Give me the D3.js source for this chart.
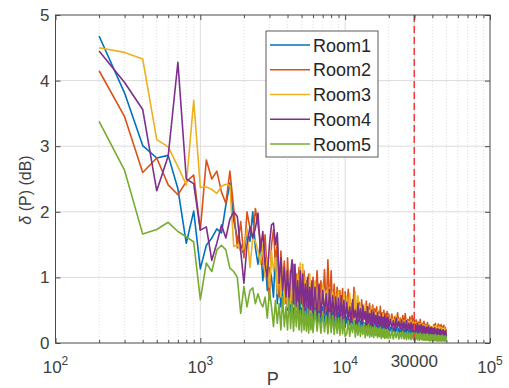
<!DOCTYPE html>
<html>
<head>
<meta charset="utf-8">
<script src="https://cdn.jsdelivr.net/npm/d3@7"></script>
<style>
  body { margin: 0; background: #fff; }
  svg { font-family: "Liberation Sans", Arial, sans-serif; }
</style>
</head>
<body>
<div id="chart"></div>
<script>
// sample positions (P)
const P = [200,300,400,500,600,700,800,900,1000,1100,1200,1300,1400,1500,1600,1700,1800,1900,2000,2100,2200,2300,2400,2500,2600,2700,2800,2900,3000,
  3100,3200,3300,3400,3500,3600,3700,3800,3900,4000,4100,4200,4300,4400,4500,4600,4700,4800,4900,5000,
  5100,5200,5300,5400,5500,5600,5700,5800,5900,6000,
  6200,6400,6600,6800,7000,7200,7400,7600,7800,8000,8200,8400,8600,8800,9000,9200,9400,9600,9800,10000,
  10250,10500,10750,11000,11250,11500,11750,12000,12250,12500,12750,13000,13250,13500,13750,14000,14250,14500,14750,15000,
  15250,15500,15750,16000,16250,16500,16750,17000,17250,17500,17750,18000,18250,18500,18750,19000,19250,19500,19750,20000,
  20500,21000,21500,22000,22500,23000,23500,24000,24500,25000,25500,26000,26500,27000,27500,28000,28500,29000,29500,30000,
  30500,31000,31500,32000,32500,33000,33500,34000,34500,35000,35500,36000,36500,37000,37500,38000,38500,39000,39500,40000,
  40500,41000,41500,42000,42500,43000,43500,44000,44500,45000,45500,46000,46500,47000,47500,48000,48500,49000,49500,50000];

const room1 = [4.68,3.81,3.01,2.82,2.86,2.35,1.52,2.01,1.13,1.49,1.60,1.74,1.68,2.10,2.44,1.87,1.60,1.50,1.35,1.70,1.55,2.00,1.45,1.20,1.55,0.95,1.30,0.80,1.15,
  1.00,0.70,1.40,0.60,1.00,0.55,0.85,0.60,0.90,0.50,
  0.80,0.45,0.85,0.40,0.75,0.45,0.80,0.38,0.70,0.40,
  0.72,0.35,0.65,0.40,0.70,0.35,0.62,0.38,0.60,0.34,
  0.60,0.32,0.58,0.30,0.55,0.32,0.52,0.30,0.55,0.28,
  0.50,0.28,0.48,0.27,0.46,0.26,0.45,0.25,0.44,0.24,
  0.40,0.24,0.36,0.22,0.38,0.25,0.34,0.20,0.36,0.22,0.33,0.20,0.35,0.21,0.31,0.19,0.33,0.20,0.30,0.18,
  0.31,0.19,0.29,0.17,0.30,0.18,0.28,0.17,0.29,0.16,0.27,0.16,0.28,0.15,0.26,0.16,0.25,0.15,0.26,0.14,
  0.24,0.15,0.23,0.14,0.25,0.15,0.22,0.13,0.23,0.14,0.21,0.13,0.22,0.12,0.20,0.13,0.21,0.12,0.20,0.12,
  0.19,0.11,0.20,0.11,0.18,0.11,0.19,0.10,0.18,0.10,0.17,0.10,0.18,0.09,0.17,0.10,0.16,0.09,0.17,0.09,
  0.16,0.09,0.15,0.08,0.16,0.09,0.15,0.08,0.15,0.08,0.14,0.08,0.15,0.08,0.14,0.07,0.14,0.08,0.13,0.08];

const room2 = [4.15,3.45,2.60,2.82,2.41,2.26,2.46,2.56,1.72,2.79,2.50,2.62,2.30,2.13,2.62,2.05,1.45,1.85,1.30,2.00,1.75,1.60,2.05,1.80,1.55,1.20,1.65,1.00,0.66,
  1.50,1.73,1.20,1.55,0.70,1.40,0.90,1.25,0.60,1.30,
  0.75,1.10,0.65,1.20,0.70,1.05,0.55,1.15,0.65,1.00,
  0.60,1.10,0.55,0.95,0.65,1.05,0.50,0.90,0.60,1.00,
  0.55,1.10,0.50,0.95,0.60,1.12,0.50,1.27,0.55,1.10,
  0.50,0.90,0.45,0.85,0.50,0.80,0.45,0.83,0.40,0.78,
  0.50,0.82,0.40,0.60,0.35,0.85,0.45,0.55,0.38,0.62,0.42,0.66,0.35,0.52,0.40,0.64,0.34,0.50,0.60,0.36,
  0.48,0.58,0.33,0.52,0.38,0.55,0.32,0.48,0.36,0.56,0.30,0.46,0.35,0.50,0.30,0.45,0.33,0.48,0.29,0.44,
  0.30,0.44,0.28,0.40,0.26,0.46,0.30,0.38,0.27,0.42,0.28,0.45,0.26,0.36,0.30,0.40,0.25,0.42,0.27,0.38,
  0.24,0.35,0.26,0.32,0.22,0.36,0.24,0.30,0.21,0.33,0.22,0.28,0.20,0.31,0.21,0.27,0.19,0.25,0.20,0.24,
  0.19,0.28,0.18,0.30,0.20,0.26,0.17,0.29,0.18,0.27,0.17,0.28,0.18,0.25,0.16,0.27,0.17,0.24,0.15,0.22];

const room3 = [4.50,4.43,4.33,3.10,2.99,2.69,2.41,3.70,2.37,2.38,2.34,2.28,2.39,2.42,2.40,1.47,1.50,1.40,1.45,1.75,1.15,1.60,1.55,1.40,1.20,1.50,1.00,1.30,0.85,
  1.40,1.10,1.30,0.75,1.20,0.70,1.15,0.60,1.00,0.55,
  1.10,0.60,1.00,0.55,1.15,0.50,1.05,0.60,1.22,0.55,
  1.20,0.50,1.00,0.55,0.95,0.50,1.05,0.45,0.90,0.50,
  0.95,0.45,0.85,0.50,0.90,0.45,0.80,0.45,0.85,0.42,
  0.78,0.40,0.75,0.42,0.80,0.38,0.72,0.40,0.75,0.38,
  0.70,0.40,0.76,0.45,0.62,0.40,0.78,0.42,0.72,0.38,0.58,0.40,0.55,0.35,0.60,0.33,0.52,0.36,0.50,0.32,
  0.55,0.30,0.48,0.33,0.46,0.30,0.50,0.28,0.44,0.30,0.42,0.28,0.45,0.26,0.40,0.28,0.38,0.25,0.41,0.24,
  0.40,0.26,0.38,0.24,0.42,0.25,0.36,0.23,0.37,0.24,0.34,0.22,0.36,0.21,0.33,0.22,0.35,0.20,0.32,0.21,
  0.31,0.19,0.32,0.18,0.29,0.19,0.30,0.17,0.28,0.18,0.27,0.16,0.26,0.15,0.28,0.16,0.25,0.15,0.24,0.14,
  0.26,0.14,0.25,0.13,0.27,0.14,0.24,0.13,0.25,0.12,0.24,0.12,0.23,0.12,0.22,0.11,0.23,0.12,0.21,0.11];

const room4 = [4.45,3.97,3.56,2.32,2.85,4.28,2.50,2.43,1.72,1.77,1.26,1.52,1.80,1.60,1.89,2.00,1.93,1.40,0.91,1.50,1.77,1.60,1.75,1.98,1.40,1.70,1.20,1.01,1.50,
  1.80,1.83,1.50,1.68,0.91,1.30,0.80,1.15,0.70,1.10,
  0.65,1.05,1.27,0.60,1.20,0.55,0.95,0.50,1.10,0.60,
  1.05,0.50,0.90,0.55,1.00,0.45,0.85,0.50,0.95,0.45,
  0.85,0.42,0.90,0.40,0.80,0.45,0.75,0.38,0.82,0.40,
  0.72,0.36,0.70,0.38,0.68,0.34,0.72,0.35,0.65,0.32,
  0.62,0.34,0.55,0.30,0.66,0.38,0.50,0.29,0.60,0.33,0.52,0.28,0.58,0.36,0.48,0.27,0.55,0.31,0.45,0.28,
  0.50,0.26,0.47,0.30,0.42,0.25,0.46,0.28,0.40,0.24,0.44,0.26,0.39,0.23,0.42,0.25,0.38,0.22,0.40,0.23,
  0.36,0.22,0.34,0.20,0.38,0.23,0.33,0.21,0.35,0.20,0.32,0.19,0.34,0.18,0.30,0.20,0.31,0.17,0.29,0.18,
  0.28,0.16,0.30,0.17,0.27,0.15,0.28,0.16,0.26,0.14,0.25,0.15,0.24,0.13,0.26,0.14,0.23,0.12,0.24,0.13,
  0.22,0.12,0.23,0.11,0.21,0.12,0.22,0.10,0.20,0.11,0.21,0.10,0.19,0.09,0.20,0.10,0.18,0.09,0.19,0.11];

const room5 = [3.38,2.63,1.66,1.73,1.84,1.70,1.62,1.54,0.66,1.22,1.09,1.42,1.49,1.42,1.14,1.09,1.00,0.45,0.86,0.55,0.80,0.84,0.60,0.75,0.62,0.55,0.70,0.38,0.80,
  0.55,0.25,0.65,0.30,0.60,0.20,0.70,0.25,0.55,0.20,
  0.68,0.22,0.60,0.18,0.57,0.25,0.62,0.20,0.50,0.17,
  0.55,0.20,0.48,0.18,0.52,0.15,0.50,0.20,0.45,0.16,
  0.50,0.18,0.45,0.15,0.48,0.17,0.42,0.14,0.46,0.16,
  0.42,0.13,0.40,0.15,0.38,0.12,0.40,0.14,0.36,0.10,
  0.14,0.34,0.10,0.30,0.16,0.36,0.09,0.28,0.12,0.31,0.10,0.27,0.13,0.30,0.08,0.26,0.11,0.28,0.09,0.25,
  0.10,0.24,0.08,0.26,0.11,0.23,0.08,0.22,0.10,0.24,0.07,0.21,0.09,0.22,0.07,0.20,0.08,0.21,0.07,0.19,
  0.07,0.19,0.06,0.17,0.08,0.18,0.06,0.16,0.07,0.18,0.06,0.16,0.05,0.17,0.06,0.15,0.05,0.16,0.06,0.15,
  0.05,0.15,0.05,0.14,0.04,0.15,0.05,0.13,0.04,0.14,0.04,0.13,0.04,0.14,0.04,0.12,0.03,0.13,0.04,0.12,
  0.03,0.12,0.04,0.13,0.03,0.11,0.03,0.12,0.03,0.11,0.03,0.11,0.03,0.12,0.03,0.10,0.03,0.11,0.03,0.10];

const seriesNames = ['Room1', 'Room2', 'Room3', 'Room4', 'Room5'];
const seriesValues = [room1, room2, room3, room4, room5];
const colors = ['#0072BD', '#D95319', '#EDB120', '#7E2F8E', '#77AC30'];

const xTicks = [100, 1000, 10000, 30000, 100000];
const xTickLabels = [['10', '2'], ['10', '3'], ['10', '4'], ['30000', ''], ['10', '5']];
const yTicks = [0, 1, 2, 3, 4, 5];
const cutoff = 30000;

const W = 509, H = 388;
const mLeft = 55.5, mRight = 490, mTop = 15, mBottom = 343;

const svg = d3.select('#chart').append('svg')
    .attr('width', W).attr('height', H);

const x = d3.scaleLog().domain([100, 100000]).range([mLeft, mRight]);
const y = d3.scaleLinear().domain([0, 5]).range([mBottom, mTop]);

// minor positions 2..9 x each decade
const minor = [];
for (const dec of [100, 1000, 10000]) {
  for (let k = 2; k <= 9; k++) minor.push(dec * k);
}

// grid
const grid = svg.append('g');
grid.selectAll('.mg').data(minor).enter().append('line')
    .attr('x1', (d) => x(d)).attr('x2', (d) => x(d))
    .attr('y1', mTop).attr('y2', mBottom)
    .attr('stroke', '#c8c8c8').attr('stroke-width', 0.6)
    .attr('stroke-dasharray', '1,2');
grid.selectAll('.xg').data(xTicks.slice(1, -1)).enter().append('line')
    .attr('x1', (d) => x(d)).attr('x2', (d) => x(d))
    .attr('y1', mTop).attr('y2', mBottom)
    .attr('stroke', '#dcdcdc').attr('stroke-width', 1);
grid.selectAll('.yg').data(yTicks.slice(1, -1)).enter().append('line')
    .attr('x1', mLeft).attr('x2', mRight)
    .attr('y1', (d) => y(d)).attr('y2', (d) => y(d))
    .attr('stroke', '#dcdcdc').attr('stroke-width', 1);

// lines
const line = d3.line()
    .x((d, i) => x(P[i]))
    .y((d) => y(d));

svg.append('g').selectAll('path')
    .data(seriesValues).enter()
    .append('path')
    .attr('d', (d) => line(d))
    .attr('fill', 'none')
    .attr('stroke', (d, i) => colors[i])
    .attr('stroke-width', 1.6)
    .attr('stroke-linejoin', 'round');

// cutoff line
svg.append('line')
    .attr('x1', x(cutoff)).attr('x2', x(cutoff))
    .attr('y1', mTop).attr('y2', mBottom)
    .attr('stroke', '#EE3B3B').attr('stroke-width', 1.5)
    .attr('stroke-dasharray', '7,4');

// axes (inward ticks, box)
const axisColor = '#4a4a4a';
function styleAxis(g) {
  g.select('.domain').remove();
  g.selectAll('text').remove();
  g.selectAll('line').attr('stroke', axisColor);
}
svg.append('g').attr('transform', 'translate(0,' + mBottom + ')')
    .call(d3.axisBottom(x).tickValues(xTicks).tickSize(-5)).call(styleAxis);
svg.append('g').attr('transform', 'translate(0,' + mBottom + ')')
    .call(d3.axisBottom(x).tickValues(minor).tickSize(-3)).call(styleAxis);
svg.append('g').attr('transform', 'translate(0,' + mTop + ')')
    .call(d3.axisTop(x).tickValues(xTicks).tickSize(-5)).call(styleAxis);
svg.append('g').attr('transform', 'translate(0,' + mTop + ')')
    .call(d3.axisTop(x).tickValues(minor).tickSize(-3)).call(styleAxis);
svg.append('g').attr('transform', 'translate(' + mLeft + ',0)')
    .call(d3.axisLeft(y).tickValues(yTicks).tickSize(-5)).call(styleAxis);
svg.append('g').attr('transform', 'translate(' + mRight + ',0)')
    .call(d3.axisRight(y).tickValues(yTicks).tickSize(-5)).call(styleAxis);

svg.append('rect')
    .attr('x', mLeft).attr('y', mTop)
    .attr('width', mRight - mLeft).attr('height', mBottom - mTop)
    .attr('fill', 'none').attr('stroke', axisColor).attr('stroke-width', 1);

// tick labels
const textColor = '#404040';
svg.append('g').selectAll('text')
    .data(yTicks).enter().append('text')
    .attr('x', mLeft - 6).attr('y', (d) => y(d) + 6)
    .attr('text-anchor', 'end')
    .attr('font-size', 17).attr('fill', textColor)
    .text((d) => d);

const xl = svg.append('g').selectAll('text')
    .data(xTicks).enter().append('text')
    .attr('x', (d) => x(d))
    .attr('y', (d, i) => xTickLabels[i][1] ? 373 : 367)
    .attr('text-anchor', 'middle')
    .attr('font-size', 17).attr('fill', textColor);
xl.append('tspan').text((d, i) => xTickLabels[i][0]);
xl.append('tspan').attr('font-size', 12).attr('dy', -8)
    .text((d, i) => xTickLabels[i][1]);

// axis titles
svg.append('text')
    .attr('x', (mLeft + mRight) / 2).attr('y', 385)
    .attr('text-anchor', 'middle')
    .attr('font-size', 18).attr('fill', textColor)
    .text('P');

const yl = svg.append('text')
    .attr('transform', 'translate(31,190) rotate(-90)')
    .attr('text-anchor', 'middle')
    .attr('font-size', 16).attr('fill', textColor);
yl.append('tspan').attr('font-style', 'italic').text('δ');
yl.append('tspan').text(' (P) (dB)');

// legend
const lg = svg.append('g');
lg.append('rect')
    .attr('x', 266).attr('y', 31).attr('width', 112).attr('height', 126)
    .attr('fill', '#fff').attr('stroke', '#333').attr('stroke-width', 0.8);
const items = lg.selectAll('.item').data(seriesNames).enter().append('g')
    .attr('transform', (d, i) => 'translate(0,' + (45 + i * 24.75) + ')');
items.append('line')
    .attr('x1', 270).attr('x2', 310)
    .attr('stroke', (d, i) => colors[i]).attr('stroke-width', 1.4);
items.append('text')
    .attr('x', 313).attr('y', 6.5)
    .attr('font-size', 18).attr('fill', '#262626')
    .text((d) => d);
</script>
</body>
</html>
